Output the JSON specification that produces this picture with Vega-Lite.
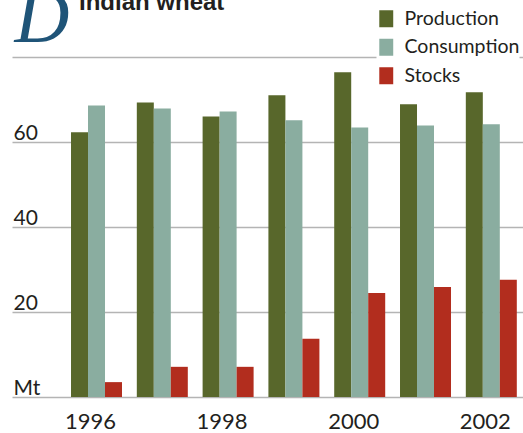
{
  "$schema": "https://vega.github.io/schema/vega-lite/v6.json",
  "width": 511,
  "height": 340,
  "autosize": {"type": "none"},
  "padding": {"left": 12, "top": 57, "right": 0, "bottom": 36},
  "background": "white",
  "title": {
    "text": "Indian wheat",
    "anchor": "start",
    "frame": "group",
    "orient": "top",
    "baseline": "alphabetic",
    "offset": 0,
    "dx": 67,
    "dy": 54,
    "font": "Liberation Sans",
    "fontSize": 24,
    "fontWeight": "bold",
    "color": "#231f20"
  },
  "config": {
    "view": {"stroke": null},
    "font": "Lato"
  },
  "data": {
    "values": [
      {"year": "1996", "type": "Production", "value": 62.3},
      {"year": "1996", "type": "Consumption", "value": 68.6},
      {"year": "1996", "type": "Stocks", "value": 3.5},
      {"year": "1997", "type": "Production", "value": 69.3},
      {"year": "1997", "type": "Consumption", "value": 67.9},
      {"year": "1997", "type": "Stocks", "value": 7.1},
      {"year": "1998", "type": "Production", "value": 66.0},
      {"year": "1998", "type": "Consumption", "value": 67.2},
      {"year": "1998", "type": "Stocks", "value": 7.1},
      {"year": "1999", "type": "Production", "value": 71.0},
      {"year": "1999", "type": "Consumption", "value": 65.1},
      {"year": "1999", "type": "Stocks", "value": 13.7},
      {"year": "2000", "type": "Production", "value": 76.4},
      {"year": "2000", "type": "Consumption", "value": 63.4},
      {"year": "2000", "type": "Stocks", "value": 24.5},
      {"year": "2001", "type": "Production", "value": 68.9},
      {"year": "2001", "type": "Consumption", "value": 63.9},
      {"year": "2001", "type": "Stocks", "value": 25.9},
      {"year": "2002", "type": "Production", "value": 71.7},
      {"year": "2002", "type": "Consumption", "value": 64.2},
      {"year": "2002", "type": "Stocks", "value": 27.6}
    ]
  },
  "mark": {"type": "bar"},
  "encoding": {
    "x": {
      "field": "year",
      "type": "nominal",
      "scale": {"paddingInner": 0.225, "paddingOuter": 0.4955, "align": 0.905},
      "axis": {
        "title": null,
        "domain": false,
        "ticks": false,
        "labelAngle": 0,
        "labelFontSize": 22,
        "labelColor": "#231f20",
        "labelBaseline": "top",
        "labelPadding": 14,
        "labelOffset": -6,
        "labelExpr": "toNumber(datum.value) % 2 == 0 ? datum.label : ''"
      }
    },
    "xOffset": {
      "field": "type",
      "type": "nominal",
      "sort": ["Production", "Consumption", "Stocks"],
      "scale": {"paddingInner": 0, "paddingOuter": 0}
    },
    "y": {
      "field": "value",
      "type": "quantitative",
      "scale": {"domain": [0, 80], "nice": false},
      "axis": {
        "values": [0, 20, 40, 60, 80],
        "domain": false,
        "ticks": false,
        "grid": true,
        "gridColor": "#b4b4b4",
        "gridWidth": 1.5,
        "labelAlign": "left",
        "labelBaseline": "alphabetic",
        "labelPadding": -1,
        "labelOffset": -3,
        "labelFontSize": 21,
        "labelColor": "#231f20",
        "labelExpr": "datum.value == 0 ? ' Mt' : (datum.value == 80 ? '' : datum.label)",
        "title": "D",
        "titleAngle": 0,
        "titleAlign": "left",
        "titleBaseline": "alphabetic",
        "titleX": 2,
        "titleY": -16,
        "titleFont": "Liberation Serif",
        "titleFontStyle": "italic",
        "titleFontWeight": "normal",
        "titleFontSize": 76,
        "titleColor": "#1f5478"
      }
    },
    "color": {
      "field": "type",
      "type": "nominal",
      "sort": ["Production", "Consumption", "Stocks"],
      "scale": {
        "domain": ["Production", "Consumption", "Stocks"],
        "range": ["#58672b", "#8aada0", "#b22d1e"]
      },
      "legend": {
        "title": null,
        "orient": "none",
        "legendX": 364.5,
        "legendY": -48,
        "padding": 0,
        "fillColor": "white",
        "symbolType": "M-0.82,-1L0.82,-1L0.82,1L-0.82,1Z",
        "symbolSize": 289,
        "symbolOpacity": 1,
        "symbolStrokeWidth": 0,
        "labelFontSize": 19.5,
        "labelColor": "#231f20",
        "labelOffset": 8.5,
        "rowPadding": 7.5
      }
    }
  }
}
